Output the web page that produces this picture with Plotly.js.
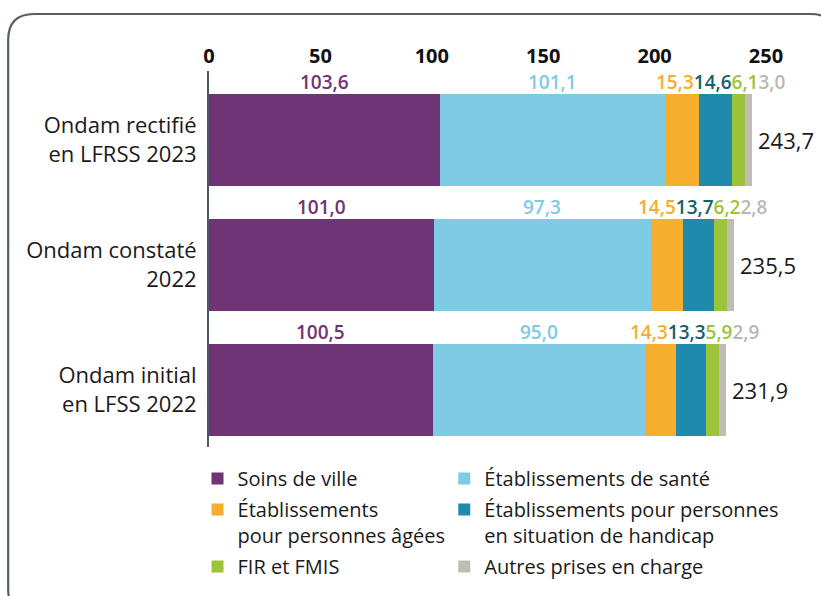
<!DOCTYPE html>
<html>
<head>
<meta charset="utf-8">
<script src="https://cdn.plot.ly/plotly-3.0.1.min.js"></script>
<style>html,body{margin:0;padding:0;background:#fff;}#chart{width:821px;height:596px;}</style>
</head>
<body>
<div id="chart"></div>
<script>
// ---- data ----
const categories = ["Ondam rectifié<br>en LFRSS 2023", "Ondam constaté<br>2022", "Ondam initial<br>en LFSS 2022"];
const seriesNames = ["Soins de ville", "Établissements de santé", "Établissements<br>pour personnes âgées", "Établissements pour personnes<br>en situation de handicap", "FIR et FMIS", "Autres prises en charge"];
const soinsDeVille = [103.6, 101.0, 100.5];
const etabSante = [101.1, 97.3, 95.0];
const etabAges = [15.3, 14.5, 14.3];
const etabHandicap = [14.6, 13.7, 13.3];
const firFmis = [6.1, 6.2, 5.9];
const autres = [3.0, 2.8, 2.9];
const totals = [243.7, 235.5, 231.9];
const xTicks = [0, 50, 100, 150, 200, 250];

// ---- styles ----
const barColors = ["#6f3474", "#7ecbe4", "#f6ae2d", "#1f8aab", "#9bc43b", "#c1bbb5"];
const labelColors = ["#6f3474", "#7ecbe4", "#f6ae2d", "#17606f", "#9bc43b", "#bdb7b1"];
const legendColumn = ['legend', 'legend2', 'legend', 'legend2', 'legend', 'legend2'];
const FONT = "Open Sans, Noto Sans, sans-serif";

const series = [soinsDeVille, etabSante, etabAges, etabHandicap, firFmis, autres];
const yIdx = categories.map((c, i) => i);
const fmt = v => v.toFixed(1).replace('.', ',');
const BARW = 0.73;

const traces = series.map((vals, s) => ({
  type: 'bar', orientation: 'h',
  name: seriesNames[s],
  legend: legendColumn[s], legendgroup: 'g' + s,
  y: yIdx, x: vals, width: BARW,
  marker: {color: barColors[s], line: {width: 0}},
  hoverinfo: 'skip'
}));

const annotations = [];
categories.forEach((c, i) => {
  let cum = 0;
  for (let s = 0; s < 2; s++) {
    const v = series[s][i];
    annotations.push({
      x: cum + v / 2, y: i - BARW / 2, xref: 'x', yref: 'y',
      text: fmt(v), showarrow: false, yanchor: 'bottom', yshift: -3,
      font: {family: FONT, size: 19, weight: 600, color: labelColors[s]}
    });
    cum += v;
  }
  let chain = '';
  for (let s = 2; s < 6; s++) {
    chain += '<span style="color:' + labelColors[s] + '">' + fmt(series[s][i]) + '</span>';
  }
  annotations.push({
    x: totals[i], y: i - BARW / 2, xref: 'x', yref: 'y',
    text: chain, showarrow: false, xanchor: 'right', yanchor: 'bottom', yshift: -3, xshift: 35,
    font: {family: FONT, size: 19, weight: 600, color: '#000'}
  });
  annotations.push({
    x: totals[i], y: i, xref: 'x', yref: 'y',
    text: fmt(totals[i]), showarrow: false, xanchor: 'left', xshift: 4,
    font: {family: FONT, size: 22, color: '#1a1a1a'}
  });
});

// frame
const L = 209, R = 766.5, T = 71, B = 447;
const px = v => ((v - L) / (R - L)).toFixed(5);
const py = v => ((B - v) / (B - T)).toFixed(5);
const fx0 = 8, fy0 = 14, fx1 = 837, fy1 = 615, rad = 26;
const framePath =
  'M ' + px(fx0) + ' ' + py(fy0 + rad) +
  ' Q ' + px(fx0) + ' ' + py(fy0) + ' ' + px(fx0 + rad) + ' ' + py(fy0) +
  ' L ' + px(fx1 - rad) + ' ' + py(fy0) +
  ' Q ' + px(fx1) + ' ' + py(fy0) + ' ' + px(fx1) + ' ' + py(fy0 + rad) +
  ' L ' + px(fx1) + ' ' + py(fy1 - rad) +
  ' Q ' + px(fx1) + ' ' + py(fy1) + ' ' + px(fx1 - rad) + ' ' + py(fy1) +
  ' L ' + px(fx0 + rad) + ' ' + py(fy1) +
  ' Q ' + px(fx0) + ' ' + py(fy1) + ' ' + px(fx0) + ' ' + py(fy1 - rad) + ' Z';

const legendBase = {
  orientation: 'v', xanchor: 'left', y: -0.032, yanchor: 'top',
  valign: 'top', traceorder: 'grouped', tracegroupgap: 2,
  font: {family: FONT, size: 20, color: '#1a1a1a'},
  bgcolor: 'rgba(0,0,0,0)', borderwidth: 0,
  itemclick: false, itemdoubleclick: false
};

const layout = {
  width: 821, height: 596,
  margin: {l: L, r: 821 - R, t: T, b: 596 - B, pad: 0, autoexpand: false},
  paper_bgcolor: '#fff', plot_bgcolor: 'rgba(0,0,0,0)',
  barmode: 'stack',
  font: {family: FONT, color: '#1a1a1a'},
  xaxis: {
    side: 'top', range: [0, 250], tickvals: xTicks, ticktext: xTicks.map(String),
    showgrid: false, zeroline: false, showline: false, ticks: '',
    tickfont: {family: FONT, size: 20, weight: 700, color: '#111'},
    ticklabelstandoff: 3, fixedrange: true
  },
  yaxis: {
    range: [2.456, -0.552], tickvals: yIdx, ticktext: categories,
    showgrid: false, zeroline: false, showline: true, linecolor: '#505866', linewidth: 2,
    ticks: '', tickfont: {family: FONT, size: 22, color: '#1a1a1a'},
    ticklabelstandoff: 6, fixedrange: true
  },
  showlegend: true,
  legend: Object.assign({}, legendBase, {x: -0.0206}),
  legend2: Object.assign({}, legendBase, {x: 0.4224}),
  annotations: annotations,
  shapes: [{type: 'path', xref: 'paper', yref: 'paper', path: framePath,
    line: {color: '#555d6b', width: 2.2}, fillcolor: 'rgba(0,0,0,0)', layer: 'below'}]
};

Plotly.newPlot('chart', traces, layout, {displayModeBar: false, staticPlot: true});
</script>
</body>
</html>
